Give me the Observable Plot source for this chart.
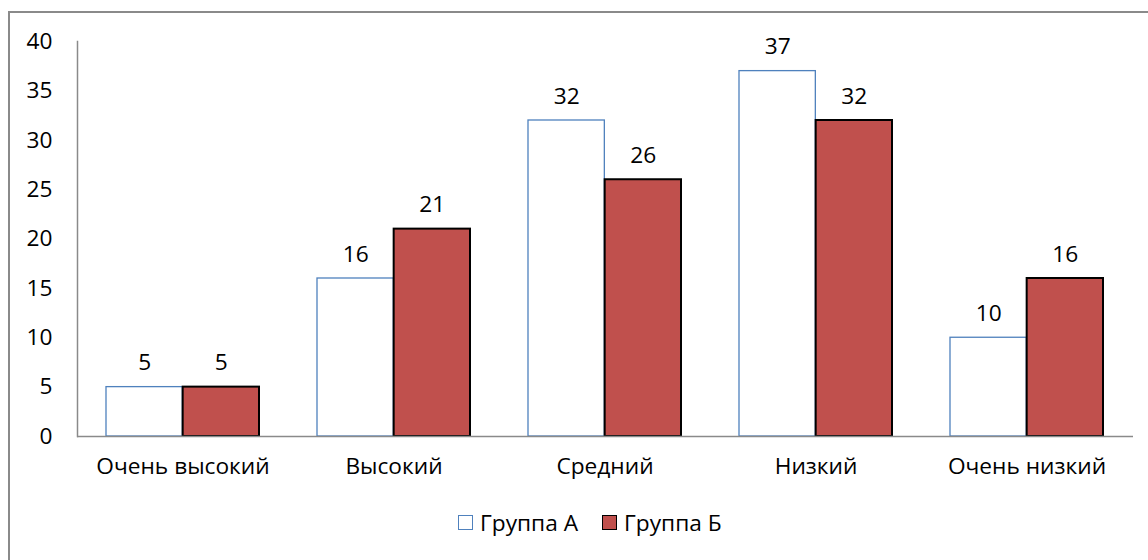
<!DOCTYPE html>
<html>
<head>
<meta charset="utf-8">
<script src="https://cdn.jsdelivr.net/npm/d3@7"></script>
<script src="https://cdn.jsdelivr.net/npm/@observablehq/plot@0.6"></script>
<style>
  html, body { margin: 0; padding: 0; background: #fff; }
  #wrap { position: relative; width: 1148px; height: 560px; overflow: hidden; font-family: "Open Sans", sans-serif; }
  #bl { position: absolute; left: 8px; top: 11px; width: 1.5px; height: 560px; background: #8a8a8a; }
  #bt { position: absolute; left: 8px; top: 11px; width: 1140px; height: 1.5px; background: #8a8a8a; }
  #chart { position: absolute; left: 0; top: 0; }
  #legend { position: absolute; top: 507px; left: 458px; display: flex; align-items: center; font-size: 22.7px; color: #000; }
  .sw { width: 13px; height: 13px; margin-right: 7px; box-sizing: content-box; }
  .item { display: flex; align-items: center; margin-right: 24px; }
</style>
</head>
<body>
<div id="wrap">
  <div id="bl"></div><div id="bt"></div>
  <div id="chart"></div>
  <div id="legend"></div>
</div>
<script>
const categories = ["Очень высокий", "Высокий", "Средний", "Низкий", "Очень низкий"];
const seriesNames = ["Группа А", "Группа Б"];
const groupA = [5, 16, 32, 37, 10];
const groupB = [5, 21, 26, 32, 16];
const yTicks = [0, 5, 10, 15, 20, 25, 30, 35, 40];

const colors = { fillA: "#ffffff", strokeA: "#4f81bd", fillB: "#c0504d", strokeB: "#000000" };

const dataA = categories.map((c, i) => ({ cat: c, value: groupA[i] }));
const dataB = categories.map((c, i) => ({ cat: c, value: groupB[i] }));

const width = 1148, marginLeft = 77, marginRight = 15;
const pInner = 0.274, pOuter = 0.137;
const step = (width - marginLeft - marginRight) / (categories.length - pInner + 2 * pOuter);
const bw = step * (1 - pInner);
const half = bw / 2;
const font = "'Open Sans', sans-serif";
const fs = 22.7;

const chart = Plot.plot({
  width,
  height: 496,
  marginLeft,
  marginRight,
  marginTop: 41,
  marginBottom: 60,
  style: { fontFamily: font, fontSize: fs + "px", color: "#000", background: "transparent" },
  x: { domain: categories, paddingInner: pInner, paddingOuter: pOuter, label: null },
  y: { domain: [0, 40], label: null },
  marks: [
    Plot.barY(dataA, { x: "cat", y: "value", fill: colors.fillA, stroke: colors.strokeA, strokeWidth: 1.3, insetRight: half }),
    Plot.barY(dataB, { x: "cat", y: "value", fill: colors.fillB, stroke: colors.strokeB, strokeWidth: 2, insetLeft: half }),
    Plot.ruleY([0], { stroke: "#8a8a8a", strokeWidth: 1.5 }),
    Plot.frame({ anchor: "left", stroke: "#8a8a8a", strokeWidth: 1.5 }),
    Plot.text(dataA, { x: "cat", y: "value", text: d => String(d.value), dx: -half / 2, dy: -17, lineAnchor: "bottom", fill: "#000", fontSize: fs }),
    Plot.text(dataB, { x: "cat", y: "value", text: d => String(d.value), dx: half / 2, dy: -17, lineAnchor: "bottom", fill: "#000", fontSize: fs }),
    Plot.axisY({ ticks: yTicks, tickSize: 0, tickPadding: 25, fontSize: fs, label: null }),
    Plot.axisX({ tickSize: 0, tickPadding: 21, fontSize: fs, label: null })
  ]
});
document.getElementById("chart").appendChild(chart);

const legend = document.getElementById("legend");
seriesNames.forEach((name, i) => {
  const item = document.createElement("div");
  item.className = "item";
  const sw = document.createElement("div");
  sw.className = "sw";
  sw.style.background = i === 0 ? colors.fillA : colors.fillB;
  sw.style.border = i === 0 ? "1.5px solid " + colors.strokeA : "1.5px solid " + colors.strokeB;
  const t = document.createElement("span");
  t.textContent = name;
  item.appendChild(sw);
  item.appendChild(t);
  legend.appendChild(item);
});
</script>
</body>
</html>
